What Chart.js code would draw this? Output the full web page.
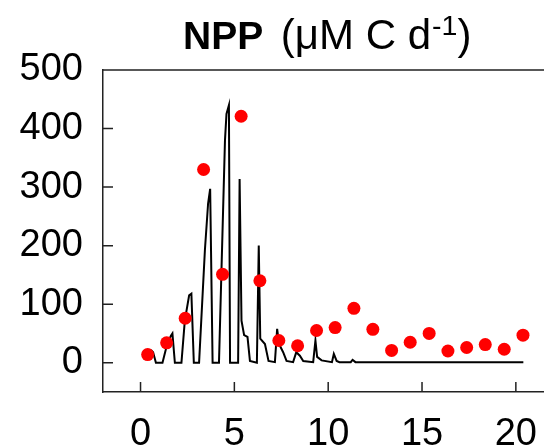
<!DOCTYPE html>
<html>
<head>
<meta charset="utf-8">
<script src="https://cdn.jsdelivr.net/npm/chart.js@4/dist/chart.umd.min.js"></script>
<style>
  body { margin: 0; background: #fff; }
  #wrap { position: relative; width: 544px; height: 447px; }
  #title {
    position: absolute; left: 183px; top: 13px;
    font-family: 'Liberation Sans', Arial, sans-serif;
    font-size: 42px; line-height: 44px; color: #000; white-space: nowrap;
  }
  #title b { font-size: 39px; margin-right: 6px; }
  #title sup { font-size: 0.68em; position: relative; top: -0.5em; vertical-align: baseline; line-height: 0; margin-left: 1px; }
</style>
</head>
<body>
<div id="wrap">
  <canvas id="myChart" width="544" height="447"></canvas>
  <div id="title"><b>NPP</b> (μM C d<sup>-1</sup>)</div>
</div>
<script>
// observed NPP (red dots)
const obsDay = [0.38, 1.39, 2.38, 3.36, 4.37, 5.36, 6.36, 7.37, 8.37, 9.38, 10.37, 11.37, 12.38, 13.38, 14.37, 15.38, 16.38, 17.38, 18.37, 19.38, 20.38]
const obsNpp = [14, 34, 76, 330, 151, 421, 140, 38, 29, 55, 60, 93, 57, 21, 35, 50, 20, 26, 31, 23, 47]

// modelled NPP (black line)
const modelDay = [0.55, 0.67, 0.82, 1.17, 1.42, 1.62, 1.70, 1.83, 2.18, 2.36, 2.59, 2.71, 2.84,
    3.12, 3.43, 3.60, 3.71, 3.84, 4.18, 4.50, 4.58, 4.71, 4.77, 5.20, 5.28, 5.38, 5.52, 5.70, 5.83,
    6.20, 6.30, 6.38, 6.63, 6.82, 7.16, 7.28, 7.38, 7.60, 7.78, 8.13, 8.30, 8.49, 8.67, 9.20, 9.32,
    9.41, 9.65, 10.20, 10.30, 10.45, 10.60, 11.20, 11.30, 11.45, 12.50, 14.00, 16.00, 18.00, 20.40]
const modelNpp = [22, 18, 0, 0, 32, 46, 50, 0, 0, 72, 115, 118, 0,
    0, 192, 272, 297, 0, 0, 380, 425, 440, 0, 0, 314, 72, 47, 44, 3,
    0, 200, 41, 32, 3, 1, 58, 32, 18, 3, 1, 18, 12, 3, 1, 38,
    10, 4, 1, 15, 3, 1, 1, 5, 1, 1, 1, 1, 1, 1]

const xTicks = [0, 5, 10, 15, 20]
const yTicks = [0, 100, 200, 300, 400, 500]

const tickFont = { family: "'Liberation Sans', Arial, sans-serif", size: 38 }

// R style: ticks pointing inwards + top border of the box
const innerTicks = {
    id: 'innerTicks',
    afterDraw(chart) {
        const { ctx, chartArea: a, scales: { x, y } } = chart
        ctx.save()
        ctx.strokeStyle = '#222'
        ctx.lineWidth = 1.5
        ctx.beginPath()
        xTicks.forEach(v => {
            const px = x.getPixelForValue(v)
            ctx.moveTo(px, a.bottom)
            ctx.lineTo(px, a.bottom - 10)
        })
        yTicks.filter(v => v < 500).forEach(v => {
            const py = y.getPixelForValue(v)
            ctx.moveTo(a.left, py)
            ctx.lineTo(a.left + 10, py)
        })
        ctx.moveTo(a.left, a.top)
        ctx.lineTo(a.right, a.top)
        ctx.stroke()
        ctx.restore()
    }
}

const ctx = document.getElementById('myChart')
const myChart = new Chart(ctx, {
    type: 'scatter',
    data: {
        datasets: [
            {
                label: 'observed',
                data: obsDay.map((d, i) => ({ x: d, y: obsNpp[i] })),
                backgroundColor: '#ff0000',
                borderWidth: 0,
                pointRadius: 6.5,
                pointHoverRadius: 6.5
            },
            {
                label: 'model',
                data: modelDay.map((d, i) => ({ x: d, y: modelNpp[i] })),
                showLine: true,
                borderColor: '#000',
                borderWidth: 2,
                pointRadius: 0,
                tension: 0
            }
        ]
    },
    options: {
        responsive: false,
        animation: false,
        layout: { autoPadding: false, padding: { top: 70, right: 0, left: 0, bottom: 0 } },
        plugins: { legend: { display: false }, tooltip: { enabled: false } },
        scales: {
            x: {
                type: 'linear',
                min: -2,
                max: 21.5,
                afterBuildTicks: scale => { scale.ticks = xTicks.map(v => ({ value: v })) },
                afterFit: scale => {
                    scale.height = 55
                    scale.paddingLeft = 0
                    scale.paddingRight = 0
                },
                grid: { display: false, drawTicks: false },
                border: { display: true, color: '#222', width: 1.5 },
                ticks: { font: tickFont, color: '#000', padding: 20, maxRotation: 0 }
            },
            y: {
                min: -50,
                max: 500,
                afterBuildTicks: scale => { scale.ticks = yTicks.map(v => ({ value: v })) },
                afterFit: scale => {
                    scale.width = 103
                    scale.paddingTop = 0
                    scale.paddingBottom = 0
                },
                grid: { display: false, drawTicks: false },
                border: { display: true, color: '#222', width: 1.5 },
                ticks: { font: tickFont, color: '#000', padding: 20 }
            }
        }
    },
    plugins: [innerTicks]
})
</script>
</body>
</html>
